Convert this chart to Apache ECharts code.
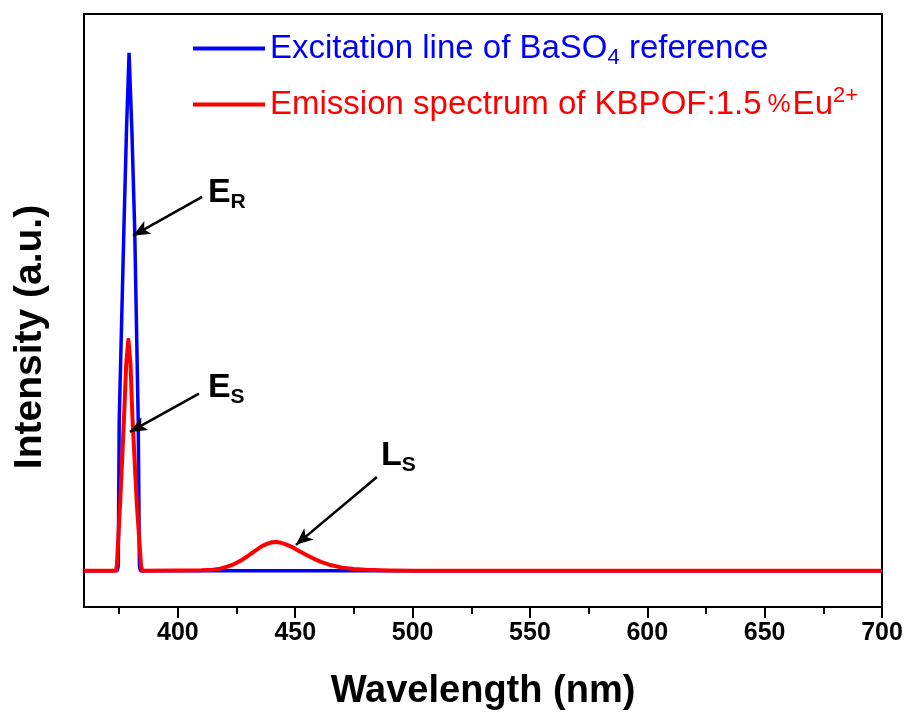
<!DOCTYPE html>
<html>
<head>
<meta charset="utf-8">
<script src="https://cdn.jsdelivr.net/npm/echarts@6/dist/echarts.min.js"></script>
<style>html,body{margin:0;padding:0;background:#fff}#c{width:910px;height:713px}</style>
</head>
<body>
<div id="c"></div>
<script>
// ---- data ----
const excitationWl = [360, 374.2, 374.6, 375.0, 377.0, 378.1, 379.2, 380.4, 381.6, 383.1, 383.6, 384.1, 400, 450, 500, 550, 600, 650, 700];
const excitationI  = [0,   0,     0.01,  0.29,  0.66,  0.85,  1.0,   0.85,  0.66,  0.29,  0.01,  0,     0,   0,   0,   0,   0,   0,   0];

const emissionWl = [360, 373.6, 374.0, 375.5, 377.0, 378.0, 378.9, 379.8, 380.7, 382.5, 384.3, 384.8, 400, 410, 415, 418, 421, 424, 427, 430, 433, 436, 438, 440, 442, 444, 446, 449, 452, 455, 458, 461, 465, 470, 475, 480, 490, 500, 550, 600, 650, 700];
const emissionI  = [0,   0,     0.01,  0.14,  0.29,  0.40,  0.446, 0.40,  0.29,  0.13,  0.01,  0,     0.0005, 0.001, 0.002, 0.004, 0.008, 0.013, 0.020, 0.029, 0.039, 0.048, 0.052, 0.055, 0.0555, 0.054, 0.051, 0.045, 0.037, 0.030, 0.023, 0.017, 0.011, 0.006, 0.0035, 0.002, 0.0007, 0, 0, 0, 0, 0];

const majorTicks = [400, 450, 500, 550, 600, 650, 700];
const minorTicks = [375, 425, 475, 525, 575, 625, 675];

const seriesNames = ['Excitation line of BaSO4 reference', 'Emission spectrum of KBPOF:1.5%Eu2+'];
const xTitle = 'Wavelength (nm)';
const yTitle = 'Intensity (a.u.)';

// annotations: label, subscript, text anchor (data), arrow start (data), arrow end (data)
const annotations = [
  {main: 'E', sub: 'R', text: [412.8, 0.762], from: [410.3, 0.722], to: [380.9, 0.647]},
  {main: 'E', sub: 'S', text: [412.8, 0.386], from: [409.0, 0.342], to: [379.6, 0.268]},
  {main: 'L', sub: 'S', text: [486.5, 0.255], from: [484.8, 0.181], to: [450.3, 0.050]}
];

const zip = (xs, ys) => xs.map((x, i) => [x, ys[i]]);
const FONT = 'Liberation Sans, Arial, sans-serif';

const chart = echarts.init(document.getElementById('c'), null, {renderer: 'canvas'});

const option = {
  animation: false,
  backgroundColor: '#fff',
  grid: {left: 84, right: 28, top: 14, bottom: 106, show: true, borderColor: '#000', borderWidth: 2, containLabel: false, outerBoundsMode: 'none'},
  legend: {
    orient: 'vertical', left: 193, top: 32, padding: 0,
    itemWidth: 72, itemHeight: 4, itemGap: 16,
    icon: 'rect',
    data: [
      {name: seriesNames[0], itemStyle: {color: '#0000ff'}},
      {name: seriesNames[1], itemStyle: {color: '#ff0000'}}
    ],
    formatter: function (name) {
      if (name === seriesNames[0]) return '{b|Excitation line of BaSO}{bs|4}{b| reference}';
      return '{r|Emission spectrum of KBPOF:1.5}{rp|%}{r|Eu}{rsup|2+}';
    },
    textStyle: {
      fontFamily: FONT,
      rich: {
        b: {color: '#0000ff', fontSize: 33, lineHeight: 40, fontFamily: FONT},
        bs: {color: '#0000ff', fontSize: 22, lineHeight: 16, verticalAlign: 'bottom', fontFamily: FONT},
        r: {color: '#ff0000', fontSize: 33, lineHeight: 40, fontFamily: FONT},
        rp: {color: '#ff0000', fontSize: 26, lineHeight: 40, fontFamily: FONT, padding: [0, 2, 0, 6]},
        rsup: {color: '#ff0000', fontSize: 22, lineHeight: 16, verticalAlign: 'top', fontFamily: FONT}
      }
    }
  },
  xAxis: [
    {
      type: 'value', min: 360, max: 700, position: 'bottom',
      name: xTitle, nameLocation: 'middle', nameGap: 66,
      nameTextStyle: {fontFamily: FONT, fontWeight: 'bold', fontSize: 38, color: '#000'},
      axisLine: {show: true, onZero: false, lineStyle: {color: '#000', width: 2}},
      axisTick: {show: true, length: 11, inside: false, customValues: majorTicks, lineStyle: {color: '#000', width: 2}},
      axisLabel: {show: true, customValues: majorTicks, margin: 14, fontFamily: FONT, fontWeight: 'bold', fontSize: 25, color: '#000'},
      splitLine: {show: false}
    },
    {
      type: 'value', min: 360, max: 700, position: 'bottom',
      axisLine: {show: false, onZero: false},
      axisTick: {show: true, length: 7, inside: false, customValues: minorTicks, lineStyle: {color: '#000', width: 2}},
      axisLabel: {show: false},
      splitLine: {show: false}
    }
  ],
  yAxis: {
    type: 'value', min: -0.07, max: 1.075,
    axisLine: {show: true, onZero: false, lineStyle: {color: '#000', width: 2}},
    axisTick: {show: false}, axisLabel: {show: false}, splitLine: {show: false}
  },
  series: [
    {
      name: seriesNames[0], type: 'line', xAxisIndex: 0, data: zip(excitationWl, excitationI),
      showSymbol: false, symbol: 'none', lineStyle: {color: '#0000ff', width: 3.5}, itemStyle: {color: '#0000ff'}, z: 2
    },
    {
      name: seriesNames[1], type: 'line', xAxisIndex: 0, data: zip(emissionWl, emissionI),
      showSymbol: false, symbol: 'none', lineStyle: {color: '#ff0000', width: 4, join: 'round'}, itemStyle: {color: '#ff0000'}, z: 3,
      markLine: {
        silent: true, animation: false,
        symbol: ['none', 'arrow'], symbolSize: [11, 17],
        lineStyle: {color: '#000', width: 2.5, type: 'solid'},
        label: {show: false},
        data: annotations.map(a => [{coord: a.from}, {coord: a.to}])
      }
    }
  ]
};
chart.setOption(option);

const graphics = annotations.map(a => {
  const p = chart.convertToPixel({xAxisIndex: 0, yAxisIndex: 0}, a.text);
  return {
    type: 'text', left: p[0], top: p[1], z: 10,
    style: {
      text: '{m|' + a.main + '}{s|' + a.sub + '}',
      rich: {
        m: {fontFamily: FONT, fontWeight: 'bold', fontSize: 34, lineHeight: 40, fill: '#000'},
        s: {fontFamily: FONT, fontWeight: 'bold', fontSize: 21, lineHeight: 16, verticalAlign: 'bottom', fill: '#000'}
      }
    }
  };
});
graphics.push({
  type: 'text', x: 30, y: 337, rotation: Math.PI / 2, z: 10,
  style: {text: yTitle, fontFamily: FONT, fontWeight: 'bold', fontSize: 39, fill: '#000', align: 'center', verticalAlign: 'middle'}
});
chart.setOption({graphic: graphics});
</script>
</body>
</html>
